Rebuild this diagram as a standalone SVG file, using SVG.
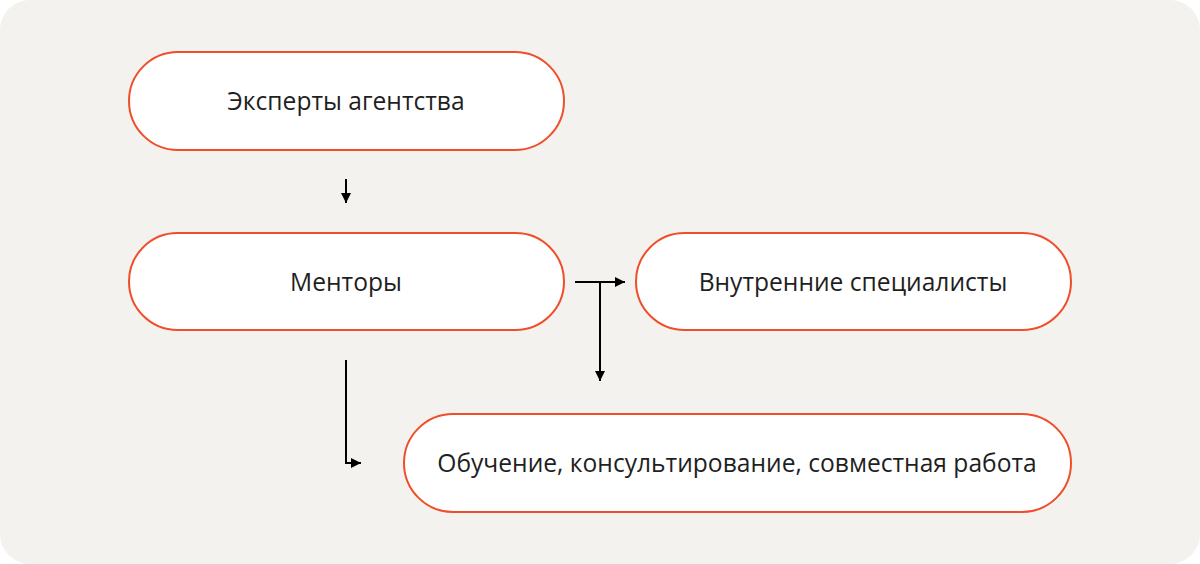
<svg xmlns="http://www.w3.org/2000/svg" width="1200" height="564" viewBox="0 0 1200 564">
<defs>
<style>
.node rect{fill:#ffffff;stroke:#f04e2a;stroke-width:2}
.node text{font-family:"Open Sans","Noto Sans","Liberation Sans",sans-serif;font-size:24.6px;fill:#1f1f1f;text-anchor:middle;dominant-baseline:central}
.conn path{fill:none;stroke:#000;stroke-width:2}
</style>
<marker id="ah" viewBox="0 0 10 10" refX="10" refY="5" markerWidth="10" markerHeight="10" markerUnits="userSpaceOnUse" orient="auto">
<path d="M0,0 L10,5 L0,10 z" fill="#000"/>
</marker>
</defs>
<rect x="0" y="0" width="1200" height="564" rx="30" fill="#f3f2ee"/>
<g id="n1" class="node"><rect x="129" y="52" width="435" height="98" rx="49"/><text x="346" y="100">Эксперты агентства</text></g>
<g id="n2" class="node"><rect x="129" y="233" width="435" height="97" rx="48.5"/><text x="346" y="281">Менторы</text></g>
<g id="n3" class="node"><rect x="636" y="233" width="435" height="97" rx="48.5"/><text x="853" y="281">Внутренние специалисты</text></g>
<g id="n4" class="node"><rect x="404" y="414" width="667" height="98" rx="49"/><text x="737" y="462">Обучение, консультирование, совместная работа</text></g>
<g id="connectors" class="conn">
<path d="M346,179 V203" marker-end="url(#ah)"/>
<path d="M575,282 H625" marker-end="url(#ah)"/>
<path d="M600,282 V381" marker-end="url(#ah)"/>
<path d="M346,360 V463 H361" marker-end="url(#ah)"/>
</g>
</svg>
